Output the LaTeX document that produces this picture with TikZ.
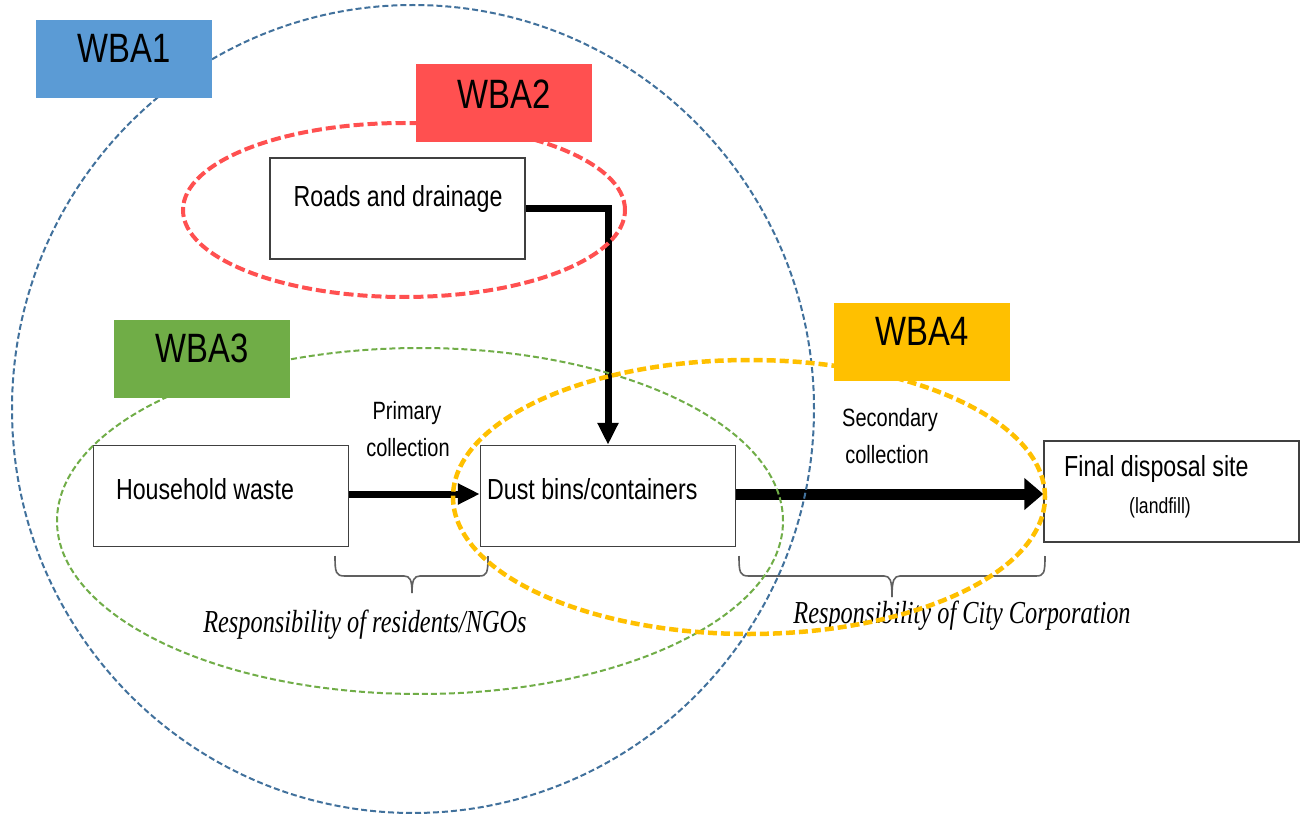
\documentclass[tikz,border=0pt]{standalone}
\usepackage{fontspec}
\usetikzlibrary{arrows.meta}
\newfontfamily\nsans[FakeStretch=0.8]{Liberation Sans}
\newfontfamily\nserif[FakeStretch=0.76]{Liberation Serif}
\definecolor{wbablue}{HTML}{5B9BD5}
\definecolor{wbablueline}{HTML}{41719C}
\definecolor{wbared}{HTML}{FF5050}
\definecolor{wbagreen}{HTML}{70AD47}
\definecolor{wbagold}{HTML}{FFC000}
\definecolor{boxline}{HTML}{404040}
\definecolor{braceline}{HTML}{606060}
\tikzset{
  procbox/.style={draw=boxline, line width=1.5pt, fill=white, minimum width=255pt, minimum height=101pt, inner sep=0pt},
  wbabox/.style={minimum width=176pt, minimum height=78pt, inner sep=0pt},
  wbatext/.style={font=\nsans\fontsize{41}{45}\selectfont, inner sep=0pt},
  boxtext/.style={font=\nsans\fontsize{29}{32}\selectfont, inner sep=0pt},
  smalltext/.style={font=\nsans\fontsize{25}{28}\selectfont, inner sep=0pt},
  resptext/.style={font=\nserif\itshape\fontsize{32}{35}\selectfont, inner sep=0pt},
  flowarrow/.style={line width=7pt, -{Triangle[length=22pt,width=20pt]}},
  bigarrow/.style={line width=11pt, -{Triangle[length=19pt,width=31pt]}},
  bracestyle/.style={draw=braceline, line width=1.6pt, line join=round},
}
\begin{document}
\begin{tikzpicture}[x=1pt,y=-1pt]
\useasboundingbox (0,0) rectangle (1307,821);
\fill[white] (0,0) rectangle (1307,821);

% process boxes
\node[procbox] (roads) at (397.5,208.5) {};
\node[procbox] (house) at (221,496) {};
\node[procbox] (dust) at (608,496) {};
\node[procbox] (final) at (1171.5,491.5) {};

\node[boxtext] (roadsT) at (398,199) {Roads and drainage};
\node[boxtext] (houseT) at (205,489) {Household waste};
\node[boxtext, anchor=west] (dustT) at (487,489) {Dust bins/containers};
\node[boxtext, anchor=west] (finalT) at (1064,469) {Final disposal site};
\node[font=\nsans\fontsize{22}{24}\selectfont, inner sep=0pt] (landT) at (1160,508) {(landfill)};

% arrows
\draw[flowarrow] (roads.east) -| (dust.north);
\draw[flowarrow] (house.east |- 0,494) -- (dust.west |- 0,494);
\draw[bigarrow] (dust.east |- 0,494) -- (final.west |- 0,494);

% braces
\draw[bracestyle] (335,556) .. controls (335,573) and (336,576) .. (345,576) -- (404,576) .. controls (410,576) and (412,580) .. (412,593);
\draw[bracestyle] (412,593) .. controls (412,580) and (414,576) .. (420,576) -- (479,576) .. controls (487,576) and (488,573) .. (488,556);
\draw[bracestyle] (739,556) .. controls (739,573) and (740,576) .. (749,576) -- (884,576) .. controls (890,576) and (892,580) .. (892,597);
\draw[bracestyle] (892,597) .. controls (892,580) and (894,576) .. (900,576) -- (1036,576) .. controls (1044,576) and (1045,573) .. (1045,556);

% labels
\node[smalltext] (prim1) at (407,413) {Primary};
\node[smalltext] (prim2) at (408,448) {collection};
\node[smalltext] (sec1) at (890,420) {Secondary};
\node[smalltext] (sec2) at (887,455) {collection};
\node[resptext] (resp1) at (365,625) {Responsibility of residents/NGOs};
\node[resptext] (resp2) at (962,616) {Responsibility of City Corporation};

% areas
\draw[wbablueline, line width=2pt, dash pattern=on 6pt off 3pt] (413,409) ellipse [x radius=401pt, y radius=404pt];
\draw[wbared, line width=4pt, dash pattern=on 10pt off 4pt] (404,210) ellipse [x radius=221pt, y radius=87pt];
\draw[wbagreen, line width=2pt, dash pattern=on 6pt off 3pt] (420,521) ellipse [x radius=363pt, y radius=173pt];
\draw[wbagold, line width=4.5pt, dash pattern=on 9pt off 4pt] (749,497) ellipse [x radius=296pt, y radius=137pt];

% WBA boxes
\node[wbabox, fill=wbablue] (wba1) at (124,59) {};
\node[wbabox, fill=wbared] (wba2) at (504,103) {};
\node[wbabox, fill=wbagreen] (wba3) at (202,359) {};
\node[wbabox, fill=wbagold] (wba4) at (922,342) {};
\node[wbatext] (wba1T) at (124,48) {WBA1};
\node[wbatext] (wba2T) at (504,94) {WBA2};
\node[wbatext] (wba3T) at (202,348) {WBA3};
\node[wbatext] (wba4T) at (922,331) {WBA4};
\end{tikzpicture}
\end{document}
